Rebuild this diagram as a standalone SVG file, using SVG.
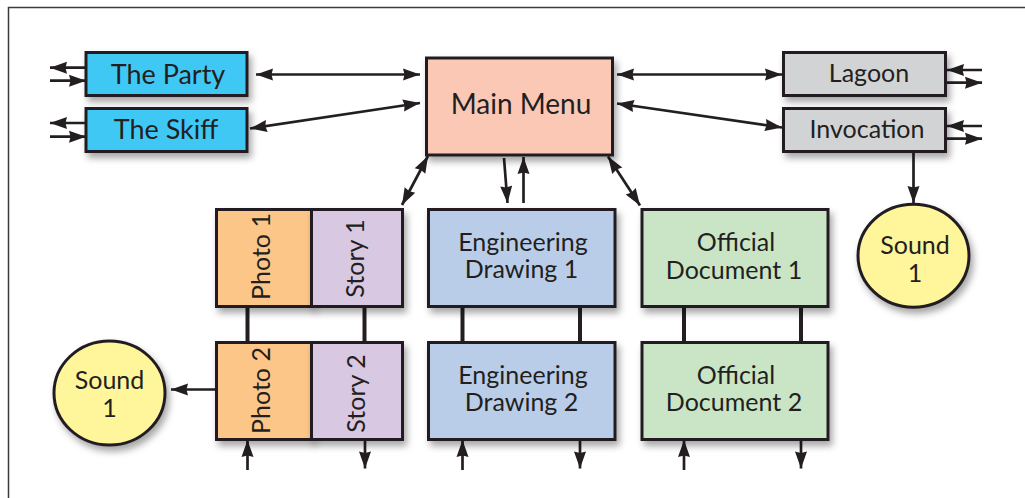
<svg xmlns="http://www.w3.org/2000/svg" width="1025" height="498" viewBox="0 0 1025 498">
<style>
.box{stroke:#231f20;stroke-width:3}
.t{font-family:Lato,"Open Sans",sans-serif;fill:#231f20;text-anchor:middle}
.f25{font-size:25px}
.f27{font-size:27px}
.f28{font-size:28px}
.c line{stroke:#231f20;stroke-width:2.7;fill:none}
.c .both{marker-start:url(#ah);marker-end:url(#ah)}
.c .end{marker-end:url(#ah)}
.c .bar{stroke-width:4}
</style>
<defs>
<marker id="ah" markerUnits="userSpaceOnUse" markerWidth="19" markerHeight="13" refX="17" refY="6.5" orient="auto-start-reverse" overflow="visible">
<path d="M0,0.5 L17,6.5 L0,12.5 L1.5,6.5 z" fill="#231f20"/>
</marker>
<filter id="sh" x="-20%" y="-20%" width="150%" height="160%">
<feDropShadow dx="3" dy="5" stdDeviation="3.5" flood-color="#000" flood-opacity="0.35"/>
</filter>
</defs>
<rect width="1025" height="498" fill="#fff"/>
<path d="M8.5,498 V7.5 H1025" fill="none" stroke="#3a3a3a" stroke-width="1.5"/>

<g class="c" id="connectors">
<line class="both" x1="256" y1="74.5" x2="420" y2="74.5"/>
<line class="both" x1="250" y1="128.5" x2="420" y2="103"/>
<line class="both" x1="617" y1="74.5" x2="782" y2="74.5"/>
<line class="both" x1="617" y1="103.5" x2="782" y2="127.5"/>
<line class="end" x1="504" y1="158" x2="507.5" y2="203"/>
<line class="end" x1="523.5" y1="203" x2="523.5" y2="157"/>
<line class="both" x1="428" y1="156" x2="402" y2="205"/>
<line class="both" x1="608" y1="156.5" x2="640" y2="205.5"/>
<line class="end" x1="913.5" y1="152" x2="913.5" y2="203"/>
<line class="end" x1="216" y1="389.5" x2="171" y2="389.5"/>
<line class="end" x1="247.5" y1="470" x2="247.5" y2="440"/>
<line class="end" x1="462.5" y1="470" x2="462.5" y2="440"/>
<line class="end" x1="684" y1="470" x2="684" y2="440"/>
<line class="end" x1="365" y1="440" x2="365" y2="468.5"/>
<line class="end" x1="580" y1="440" x2="580" y2="468.5"/>
<line class="end" x1="801" y1="440" x2="801" y2="468.5"/>
<line class="end" x1="86" y1="67.7" x2="50" y2="67.7"/>
<line class="end" x1="50" y1="80.7" x2="86" y2="80.7"/>
<line class="end" x1="86" y1="123" x2="50" y2="123"/>
<line class="end" x1="50" y1="136.7" x2="86" y2="136.7"/>
<line class="end" x1="982" y1="70" x2="947" y2="70"/>
<line class="end" x1="947" y1="82.7" x2="982" y2="82.7"/>
<line class="end" x1="982" y1="126" x2="947" y2="126"/>
<line class="end" x1="947" y1="138.7" x2="982" y2="138.7"/>
<line class="bar" x1="247.5" y1="307" x2="247.5" y2="342"/>
<line class="bar" x1="364.5" y1="307" x2="364.5" y2="342"/>
<line class="bar" x1="462.5" y1="307" x2="462.5" y2="342"/>
<line class="bar" x1="580" y1="307" x2="580" y2="342"/>
<line class="bar" x1="684" y1="307" x2="684" y2="342"/>
<line class="bar" x1="801" y1="307" x2="801" y2="342"/>
</g>

<g id="the-party"><rect class="box" x="86" y="52.5" width="161" height="43" fill="#3fc8f4" filter="url(#sh)"/><text class="t f27" x="168" y="83.5">The Party</text></g>
<g id="the-skiff"><rect class="box" x="86" y="108.5" width="161" height="43" fill="#3fc8f4" filter="url(#sh)"/><text class="t f27" x="166" y="139">The Skiff</text></g>
<g id="main-menu"><rect class="box" x="426.5" y="58" width="186" height="97" fill="#fac8b5" filter="url(#sh)"/><text class="t f28" x="521" y="113.5">Main Menu</text></g>
<g id="lagoon"><rect class="box" x="783.5" y="52.5" width="162" height="43" fill="#d1d3d4" filter="url(#sh)"/><text class="t f25" x="869" y="82">Lagoon</text></g>
<g id="invocation"><rect class="box" x="783.5" y="108.5" width="162" height="43" fill="#d1d3d4" filter="url(#sh)"/><text class="t f25" x="867" y="137.5">Invocation</text></g>
<g id="sound-right"><ellipse class="box" cx="913.5" cy="255.8" rx="55.5" ry="51.5" fill="#fff59b" filter="url(#sh)"/><text class="t f25" x="915" y="254">Sound</text><text class="t f25" x="915" y="281.7">1</text></g>

<g id="photo-1"><rect class="box" x="216.5" y="209.5" width="95" height="97" fill="#fbc688" filter="url(#sh)"/><text class="t f25" transform="translate(270,256.5) rotate(-90)">Photo 1</text></g>
<g id="story-1"><rect class="box" x="311.5" y="209.5" width="91" height="97" fill="#d9c8e2" filter="url(#sh)"/><text class="t f25" transform="translate(363.5,258.5) rotate(-90)">Story 1</text></g>
<g id="photo-2"><rect class="box" x="216.5" y="342.5" width="95" height="97" fill="#fbc688" filter="url(#sh)"/><text class="t f25" transform="translate(269.5,390.5) rotate(-90)">Photo 2</text></g>
<g id="story-2"><rect class="box" x="311.5" y="342.5" width="91" height="97" fill="#d9c8e2" filter="url(#sh)"/><text class="t f25" transform="translate(364.5,393.5) rotate(-90)">Story 2</text></g>

<g id="eng-drawing-1"><rect class="box" x="428.5" y="209.5" width="186.5" height="97" fill="#b9cde9" filter="url(#sh)"/><text class="t f25" x="523" y="250.5">Engineering</text><text class="t f25" x="521.5" y="278">Drawing 1</text></g>
<g id="eng-drawing-2"><rect class="box" x="428.5" y="342.5" width="186.5" height="97" fill="#b9cde9" filter="url(#sh)"/><text class="t f25" x="523" y="383.5">Engineering</text><text class="t f25" x="521.5" y="411">Drawing 2</text></g>
<g id="official-doc-1"><rect class="box" x="642" y="209.5" width="186" height="97" fill="#c9e5c6" filter="url(#sh)"/><text class="t f25" x="736" y="250.7">Official</text><text class="t f25" x="734" y="279.3">Document 1</text></g>
<g id="official-doc-2"><rect class="box" x="642" y="342.5" width="186" height="97" fill="#c9e5c6" filter="url(#sh)"/><text class="t f25" x="736" y="383.5">Official</text><text class="t f25" x="734" y="411">Document 2</text></g>
<g id="sound-left"><ellipse class="box" cx="109.5" cy="393" rx="55.5" ry="52" fill="#fff59b" filter="url(#sh)"/><text class="t f25" x="109.5" y="388.5">Sound</text><text class="t f25" x="109.5" y="416.7">1</text></g>
</svg>
